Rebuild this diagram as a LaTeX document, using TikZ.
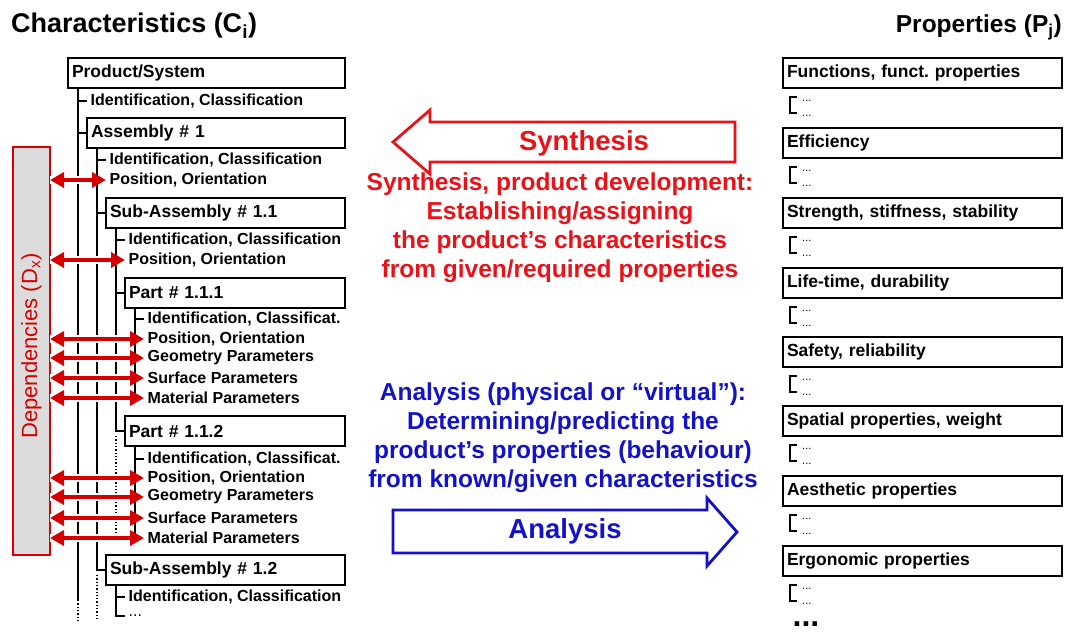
\documentclass[tikz,border=0pt]{standalone}
\usepackage{fontspec}
\setmainfont{Liberation Sans}
\usetikzlibrary{arrows.meta,calc,positioning}
\frenchspacing

\definecolor{depred}{RGB}{215,0,0}
\definecolor{synred}{RGB}{232,18,24}
\definecolor{anablue}{RGB}{18,18,200}
\definecolor{depgray}{RGB}{220,220,220}

\begin{document}
\begin{tikzpicture}[x=1pt,y=-1pt,
  box/.style={draw,line width=1.6pt,outer sep=0pt,minimum height=30pt,inner xsep=4pt,
    anchor=west,align=left,font=\fontsize{17.5}{20}\selectfont\bfseries},
  item/.style={anchor=west,inner xsep=3.5pt,inner ysep=0pt,font=\fontsize{16}{18}\selectfont\bfseries},
  title/.style={inner sep=0pt,font=\fontsize{26}{30}\selectfont\bfseries},
  tree/.style={line width=1.6pt},
  gap/.style={line width=1.3pt,dotted},
  brk/.style={line width=1.1pt},
  dots/.style={anchor=west,inner sep=0pt,font=\fontsize{11}{12}\selectfont},
  midtext/.style={align=center,font=\fontsize{24.5}{29}\selectfont\bfseries},
  bigarrow/.style={line width=2.8pt,fill=white,line join=miter},
  deparrow/.style={{Triangle[length=14pt,width=15pt]}-{Triangle[length=14pt,width=15pt]},
    draw=depred,line width=3.6pt,preaction={draw=white,line width=8pt,-}}]

  \useasboundingbox (0,0) rectangle (1065,634);

  % characteristics
  \node[title,anchor=base west,font=\fontsize{27}{30}\selectfont\bfseries] (ctitle) at (11,33)
    {Characteristics (C\textsubscript{i})};

  \node[box,text width=269pt] (ps) at (68,73) {Product/System};
  \node[item] (id0) at (87,101) {Identification, Classification};
  \node[box,text width=250pt] (a1) at (87,133) {Assembly \# 1};
  \node[item] (id1) at (106,160) {Identification, Classification};
  \node[item] (pos1) at (106,180) {Position, Orientation};
  \node[box,text width=231pt] (sa11) at (106,213) {Sub-Assembly \# 1.1};
  \node[item] (id2) at (125,240) {Identification, Classification};
  \node[item] (pos2) at (125,260) {Position, Orientation};
  \node[box,text width=212pt] (p111) at (125,293) {Part \# 1.1.1};
  \node[item] (id3) at (144,319) {Identification, Classificat.};
  \node[item] (pos3) at (144,339) {Position, Orientation};
  \node[item] (geo3) at (144,358) {Geometry Parameters};
  \node[item] (surf3) at (144,378) {Surface Parameters};
  \node[item] (mat3) at (144,398) {Material Parameters};
  \node[box,text width=212pt] (p112) at (125,431) {Part \# 1.1.2};
  \node[item] (id4) at (144,459) {Identification, Classificat.};
  \node[item] (pos4) at (144,478) {Position, Orientation};
  \node[item] (geo4) at (144,497) {Geometry Parameters};
  \node[item] (surf4) at (144,518) {Surface Parameters};
  \node[item] (mat4) at (144,538) {Material Parameters};
  \node[box,text width=231pt] (sa12) at (106,570) {Sub-Assembly \# 1.2};
  \node[item] (id5) at (125,597) {Identification, Classification};
  \node[item,font=\fontsize{16}{18}\selectfont] (etc5) at (125,616) {...};

  % tree
  \draw[tree] ([xshift=10pt]ps.south west) -- ++(0,512) coordinate (e1);
  \draw[gap] (e1) -- ++(0,20);
  \draw[tree] ([xshift=10pt]a1.south west) |- (sa12.west);
  \draw[gap] ([shift={(-9pt,-5pt)}]sa12.west) -- ++(0,45);
  \draw[tree] ([xshift=10pt]sa11.south west) |- (p112.west);
  \draw[gap] ([shift={(-9pt,-5pt)}]p112.west) -- ++(0,99);
  \draw[tree] ([xshift=10pt]p111.south west) |- (mat3.west);
  \draw[tree] ([xshift=10pt]p112.south west) |- (mat4.west);
  \draw[tree] ([xshift=10pt]sa12.south west) |- (etc5.west);
  \foreach \n in {id0,a1,id1,pos1,sa11,id2,pos2,p111,id3,pos3,geo3,surf3,id4,pos4,geo4,surf4,id5}
    \draw[tree] (\n.west) -- ++(-9,0);

  % dependencies
  \node[draw=depred,line width=1.8pt,fill=depgray,outer sep=0pt,minimum width=37pt,minimum height=408pt,
    text=depred,font=\fontsize{22}{24}\selectfont] (dep) at (31.5,351)
    {\rotatebox{90}{\hspace*{10pt}Dependencies (D\textsubscript{x})}};
  \foreach \n in {pos1,pos2,pos3,geo3,surf3,mat3,pos4,geo4,surf4,mat4}
    \draw[deparrow] (dep.east |- \n.west) -- (\n.west);

  % synthesis / analysis
  \draw[bigarrow,draw=synred] (393,142) -- (430,110) -- (430,122) -- (735,122) -- (735,162)
    -- (430,162) -- (430,174) -- cycle;
  \node[text=synred,font=\fontsize{27.5}{30}\selectfont\bfseries] (syn) at (584,143) {Synthesis};
  \node[midtext,text=synred] (syntxt) at (560,228) {Synthesis, product development:\\
    Establishing/assigning\\the product’s characteristics\\from given/required properties};

  \node[midtext,text=anablue] (anatxt) at (563,438) {Analysis (physical or “virtual”):\\
    Determining/predicting the\\product’s properties (behaviour)\\from known/given characteristics};
  \draw[bigarrow,draw=anablue] (393,510) -- (707,510) -- (707,498) -- (737,532) -- (707,566)
    -- (707,553) -- (393,553) -- cycle;
  \node[text=anablue,font=\fontsize{27.5}{30}\selectfont\bfseries] (ana) at (565,531) {Analysis};

  % properties
  \node[title,anchor=base east,font=\fontsize{24.5}{28}\selectfont\bfseries] (ptitle) at (1062,33)
    {Properties (P\textsubscript{j})};

  \node[box,text width=271pt] (pr1) at (783,73) {Functions, funct. properties};
  \node[box,text width=271pt] (pr2) at (783,143) {Efficiency};
  \node[box,text width=271pt] (pr3) at (783,213) {Strength, stiffness, stability};
  \node[box,text width=271pt] (pr4) at (783,283) {Life-time, durability};
  \node[box,text width=271pt] (pr5) at (783,352) {Safety, reliability};
  \node[box,text width=271pt] (pr6) at (783,421) {Spatial properties, weight};
  \node[box,text width=271pt] (pr7) at (783,491) {Aesthetic properties};
  \node[box,text width=271pt] (pr8) at (783,561) {Ergonomic properties};
  \foreach \b in {pr1,pr2,pr3,pr4,pr5,pr6,pr7,pr8}{
    \draw[brk] ([shift={(14pt,-9pt)}]\b.south west) -| ++(-7,16) -- ++(7,0);
    \node[dots] (\b a) at ([shift={(19pt,-13pt)}]\b.south west) {...};
    \node[dots] (\b b) at ([shift={(19pt,-28pt)}]\b.south west) {...};
  }
  \node[inner sep=0pt,font=\fontsize{32}{34}\selectfont\bfseries] (more) at (806,624) {...};
\end{tikzpicture}
\end{document}
